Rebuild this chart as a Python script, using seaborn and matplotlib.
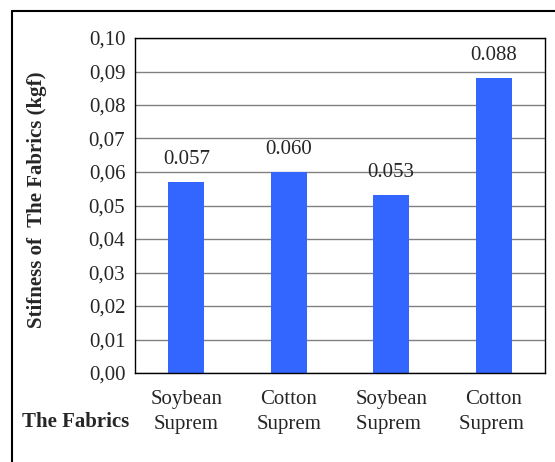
import matplotlib
matplotlib.use('Agg')
from matplotlib import pyplot as plt
from matplotlib.lines import Line2D
import seaborn as sns
import pandas as pd

#--- data
fabrics = ['Soybean\nSuprem', 'Cotton\nSuprem', 'Soybean\nSuprem ', 'Cotton\nSuprem ']
stiffness = [0.057, 0.060, 0.053, 0.088]
bar_labels = ['0.057', '0.060', '0.053', '0.088']
yticks = [0.00, 0.01, 0.02, 0.03, 0.04, 0.05, 0.06, 0.07, 0.08, 0.09, 0.10]

df = pd.DataFrame({'fabric': fabrics, 'stiffness': stiffness})

sns.set_style('white')
plt.rcParams['font.family'] = ['Liberation Serif', 'DejaVu Serif']
fs = 15

fig = plt.figure(figsize=(5.55, 4.62), dpi=100)
ax = fig.add_axes([135 / 555, 1 - 373 / 462, 410 / 555, 335 / 462])

sns.barplot(df, x='fabric', y='stiffness', color='#3366FF', saturation=1,
            width=0.35, linewidth=0, ax=ax)

ax.set_ylim(0, 0.10)
ax.set_xlim(-0.5, 3.5)
ax.set_yticks(yticks)
ax.set_yticklabels([f'{t:.2f}'.replace('.', ',') for t in yticks], fontsize=fs)
ax.tick_params(axis='y', length=0, pad=7)
ax.set_xticks(range(4))
ax.set_xticklabels(fabrics, fontsize=fs, linespacing=1.45)
ax.set_xticks([-0.5, 0.5, 1.5, 2.5, 3.5], minor=True)
ax.tick_params(axis='x', which='major', length=0, pad=12)
ax.tick_params(axis='x', which='minor', length=5, width=1, color='black', direction='out')

ax.grid(axis='y', color='#808080', linewidth=1)
ax.set_axisbelow(True)
for s in ax.spines.values():
    s.set_color('black')
    s.set_linewidth(1)
    s.set_visible(True)

for i, (v, lab) in enumerate(zip(stiffness, bar_labels)):
    ax.text(i, v + 0.0068, lab, ha='center', va='center', fontsize=fs)

ax.set_xlabel('')
ax.set_ylabel('Stifness of  The Fabrics (kgf)', fontsize=fs, fontweight='bold')
ax.yaxis.set_label_coords(-88 / 410, 0.518)

fig.text(76 / 555, 1 - 422 / 462, 'The Fabrics', ha='center', va='center',
         fontsize=fs, fontweight='bold')

# outer frame (left and top only visible)
fig.add_artist(Line2D([12 / 555, 12 / 555], [0, 1 - 11 / 462], transform=fig.transFigure,
                      color='black', linewidth=1.5))
fig.add_artist(Line2D([12 / 555, 1], [1 - 11 / 462, 1 - 11 / 462], transform=fig.transFigure,
                      color='black', linewidth=1.5))

plt.savefig('out.png', dpi=100)
plt.close()
